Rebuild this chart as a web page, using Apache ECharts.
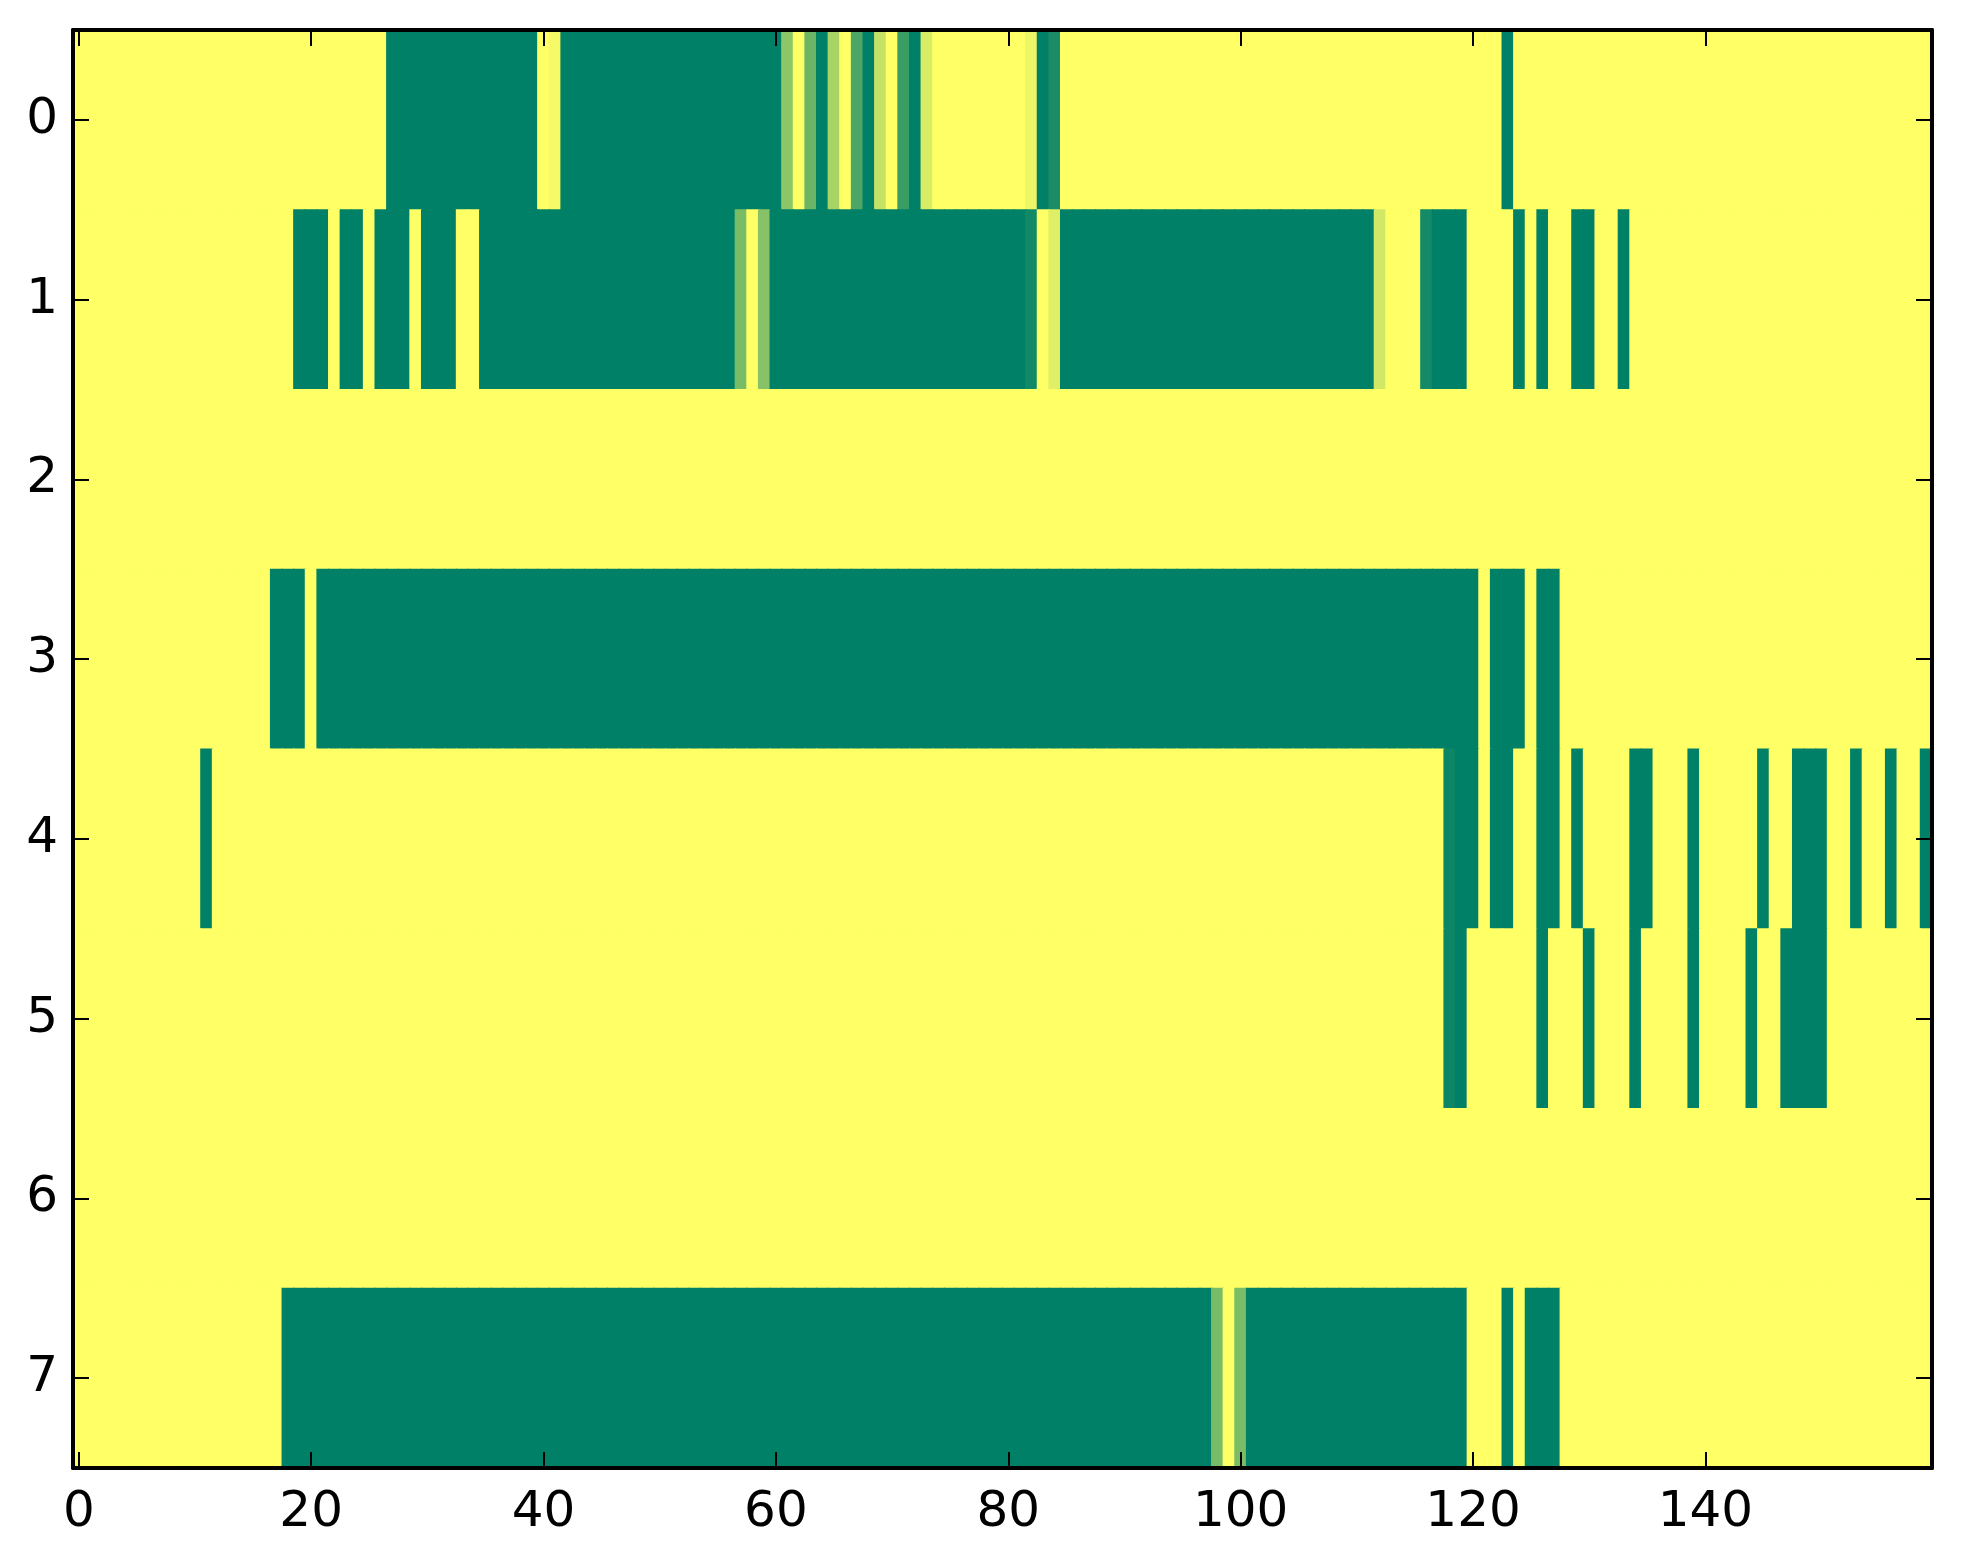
<!DOCTYPE html>
<html>
<head>
<meta charset="utf-8">
<script src="https://cdn.jsdelivr.net/npm/echarts@6/dist/echarts.min.js"></script>
<style>
  html, body { margin: 0; padding: 0; background: #ffffff; }
  #chart { width: 1963px; height: 1564px; }
</style>
</head>
<body>
<div id="chart"></div>
<script>
// Column categories (0..159) and row categories (0..7)
const xCategories = Array.from({ length: 160 }, (_, i) => String(i));
const yCategories = ['0', '1', '2', '3', '4', '5', '6', '7'];

// Each row as explicit runs: [firstColumn, lastColumn, value]
const row0 = [[0,26,1],[27,39,0],[40,40,1],[41,41,0.96],[42,60,0],[61,61,0.55],[62,62,1],[63,63,0.42],[64,64,0],[65,65,0.66],[66,66,1],[67,67,0.3],[68,68,0],[69,69,0.77],[70,70,1],[71,71,0.23],[72,72,0],[73,73,0.85],[74,81,1],[82,82,0.93],[83,83,0],[84,84,0.1],[85,122,1],[123,123,0],[124,159,1]];
const row1 = [[0,18,1],[19,21,0],[22,22,1],[23,24,0],[25,25,1],[26,28,0],[29,29,1],[30,32,0],[33,34,1],[35,56,0],[57,57,0.47],[58,58,1],[59,59,0.53],[60,81,0],[82,82,0.07],[83,83,1],[84,84,0.88],[85,111,0],[112,112,0.82],[113,115,1],[116,116,0.08],[117,119,0],[120,123,1],[124,124,0],[125,125,1],[126,126,0],[127,128,1],[129,130,0],[131,132,1],[133,133,0],[134,159,1]];
const row2 = [[0,159,1]];
const row3 = [[0,16,1],[17,19,0],[20,20,1],[21,120,0],[121,121,1],[122,124,0],[125,125,1],[126,127,0],[128,159,1]];
const row4 = [[0,10,1],[11,11,0],[12,117,1],[118,118,0.05],[119,120,0],[121,121,1],[122,123,0],[124,125,1],[126,127,0],[128,128,1],[129,129,0],[130,133,1],[134,135,0],[136,138,1],[139,139,0],[140,144,1],[145,145,0],[146,147,1],[148,150,0],[151,152,1],[153,153,0],[154,155,1],[156,156,0],[157,158,1],[159,159,0]];
const row5 = [[0,117,1],[118,118,0.05],[119,119,0],[120,125,1],[126,126,0],[127,129,1],[130,130,0],[131,133,1],[134,134,0],[135,138,1],[139,139,0],[140,143,1],[144,144,0],[145,146,1],[147,150,0],[151,159,1]];
const row6 = [[0,159,1]];
const row7 = [[0,17,1],[18,97,0],[98,98,0.47],[99,99,1],[100,100,0.48],[101,119,0],[120,122,1],[123,123,0],[124,124,1],[125,127,0],[128,159,1]];

const rows = [row0, row1, row2, row3, row4, row5, row6, row7];

const cells = [];
rows.forEach((runs, r) => {
  runs.forEach(([a, b, v]) => {
    for (let c = a; c <= b; c++) cells.push([c, r, v]);
  });
});

const FONT = 'DejaVu Sans';
const axisLine = { show: true, onZero: false, lineStyle: { color: '#000', width: 4 } };
const tickStyle = { color: '#000', width: 2 };

function renderCell(params, api) {
  const center = api.coord([api.value(0), api.value(1)]);
  const size = api.size([1, 1]);
  const w = size[0], h = size[1];
  const cs = params.coordSys;
  // small overlap so neighbouring cells leave no anti-aliased seams
  let x0 = center[0] - w / 2 - 0.6, x1 = center[0] + w / 2 + 0.6;
  let y0 = center[1] - h / 2 - 0.6, y1 = center[1] + h / 2 + 0.6;
  x0 = Math.max(x0, cs.x); x1 = Math.min(x1, cs.x + cs.width);
  y0 = Math.max(y0, cs.y); y1 = Math.min(y1, cs.y + cs.height);
  return {
    type: 'rect',
    shape: { x: x0, y: y0, width: x1 - x0, height: y1 - y0 },
    style: { fill: api.visual('color') }
  };
}

const chart = echarts.init(document.getElementById('chart'), null, { renderer: 'canvas' });
chart.setOption({
  backgroundColor: '#ffffff',
  animation: false,
  grid: { left: 73, right: 31, top: 30, bottom: 96, containLabel: false },
  xAxis: [
    {
      type: 'category', data: xCategories, position: 'bottom', z: 10,
      axisLine: axisLine,
      axisTick: { show: true, inside: true, length: 16, interval: 19, alignWithLabel: true, lineStyle: tickStyle },
      axisLabel: { show: true, interval: 19, fontSize: 50, color: '#000', fontFamily: FONT, margin: 20 },
      splitLine: { show: false }, splitArea: { show: false }
    },
    {
      type: 'category', data: xCategories, position: 'top', z: 10,
      axisLine: axisLine,
      axisTick: { show: true, inside: true, length: 16, interval: 19, alignWithLabel: true, lineStyle: tickStyle },
      axisLabel: { show: false },
      splitLine: { show: false }, splitArea: { show: false }
    }
  ],
  yAxis: [
    {
      type: 'category', data: yCategories, inverse: true, position: 'left', z: 10,
      axisLine: axisLine,
      axisTick: { show: true, inside: true, length: 16, interval: 0, alignWithLabel: true, lineStyle: tickStyle },
      axisLabel: { show: true, interval: 0, fontSize: 50, color: '#000', fontFamily: FONT, margin: 15 },
      splitLine: { show: false }, splitArea: { show: false }
    },
    {
      type: 'category', data: yCategories, inverse: true, position: 'right', z: 10,
      axisLine: axisLine,
      axisTick: { show: true, inside: true, length: 16, interval: 0, alignWithLabel: true, lineStyle: tickStyle },
      axisLabel: { show: false },
      splitLine: { show: false }, splitArea: { show: false }
    }
  ],
  visualMap: {
    show: false, type: 'continuous', min: 0, max: 1, dimension: 2, seriesIndex: 0,
    inRange: { color: ['#008066', '#ffff66'] }
  },
  series: [{
    type: 'custom',
    xAxisIndex: 0, yAxisIndex: 0,
    data: cells,
    encode: { x: 0, y: 1 },
    renderItem: renderCell,
    silent: true,
    progressive: 0
  }]
});
</script>
</body>
</html>
